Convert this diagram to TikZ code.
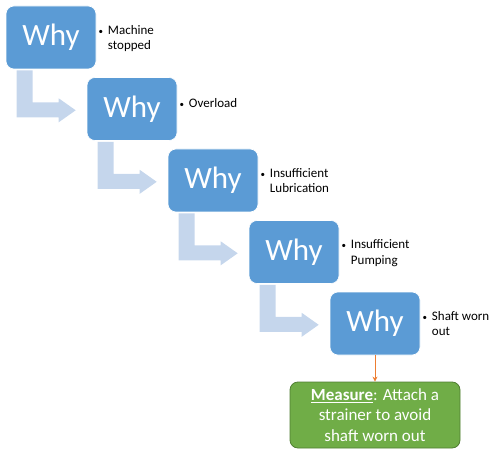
\documentclass[tikz,border=0pt]{standalone}
\usepackage{fontspec}
\setmainfont{Carlito}
\usetikzlibrary{arrows.meta}

\definecolor{whyblue}{HTML}{5B9BD5}
\definecolor{arrowblue}{HTML}{C5D6EC}
\definecolor{measuregreen}{HTML}{70AD47}
\definecolor{measureborder}{HTML}{507E32}
\definecolor{linkorange}{HTML}{ED7D31}

\tikzset{
  whybox/.style={fill=whyblue, draw=white, line width=0.6pt, rounded corners=8pt,
    minimum width=90pt, minimum height=63pt, inner sep=0pt,
    text=white, font=\fontsize{31}{31}\selectfont},
  reason/.style={anchor=north west, inner sep=0pt, align=left,
    font=\fontsize{13}{15.5}\selectfont},
  bent/.style={fill=arrowblue},
  measurebox/.style={fill=measuregreen, draw=measureborder, line width=0.8pt,
    rounded corners=8pt, minimum width=170pt, minimum height=66pt,
    text=white, align=center, font=\fontsize{17}{20.5}\selectfont},
}

\newcommand{\bul}{{\fontsize{9}{9}\selectfont\textbullet}\hspace{5pt}}
\newcommand{\bulgap}{\hphantom{{\fontsize{9}{9}\selectfont\textbullet}\hspace{5pt}}}

\begin{document}
\begin{tikzpicture}[x=1pt,y=-1pt]
\useasboundingbox (0,0) rectangle (500,454);

%boxes
\node[whybox] (why1) at (51,37.5) {Why};
\node[whybox] (why2) at (132,109) {Why};
\node[whybox] (why3) at (213,180.5) {Why};
\node[whybox] (why4) at (294,252) {Why};
\node[whybox] (why5) at (375,323.5) {Why};

%reasons
\node[reason] (r1) at ([xshift=2pt,yshift=-19.5pt]why1.north east) {\bul Machine\\\bulgap stopped};
\node[reason] (r2) at ([xshift=2pt,yshift=-21.5pt]why2.north east) {\bul Overload};
\node[reason] (r3) at ([xshift=2pt,yshift=-19.5pt]why3.north east) {\bul Insufficient\\\bulgap Lubrication};
\node[reason] (r4) at ([xshift=2pt,yshift=-19.5pt]why4.north east) {\bul Insufficient\\\bulgap Pumping};
\node[reason] (r5) at ([xshift=2pt,yshift=-19.5pt]why5.north east) {\bul Shaft worn\\\bulgap out};

%bent arrows
\fill[bent, shift={(why1.south west)}] (11,1) -- (27,1) -- (27,33) -- (53,33) -- (53,29) -- (70,41) -- (53,53) -- (53,48) -- (11,48) -- cycle;
\fill[bent, shift={(why2.south west)}] (11,1) -- (27,1) -- (27,33) -- (53,33) -- (53,29) -- (70,41) -- (53,53) -- (53,48) -- (11,48) -- cycle;
\fill[bent, shift={(why3.south west)}] (11,1) -- (27,1) -- (27,33) -- (53,33) -- (53,29) -- (70,41) -- (53,53) -- (53,48) -- (11,48) -- cycle;
\fill[bent, shift={(why4.south west)}] (11,1) -- (27,1) -- (27,33) -- (53,33) -- (53,29) -- (70,41) -- (53,53) -- (53,48) -- (11,48) -- cycle;

%measure
\node[measurebox] (measure) at (375,415) {\underline{\textbf{Measure}}: Attach a\\strainer to avoid\\shaft worn out};
\draw[linkorange, line width=0.8pt, -{Stealth[length=5pt,width=5pt]}] (why5.south) -- (measure.north);

\end{tikzpicture}
\end{document}
